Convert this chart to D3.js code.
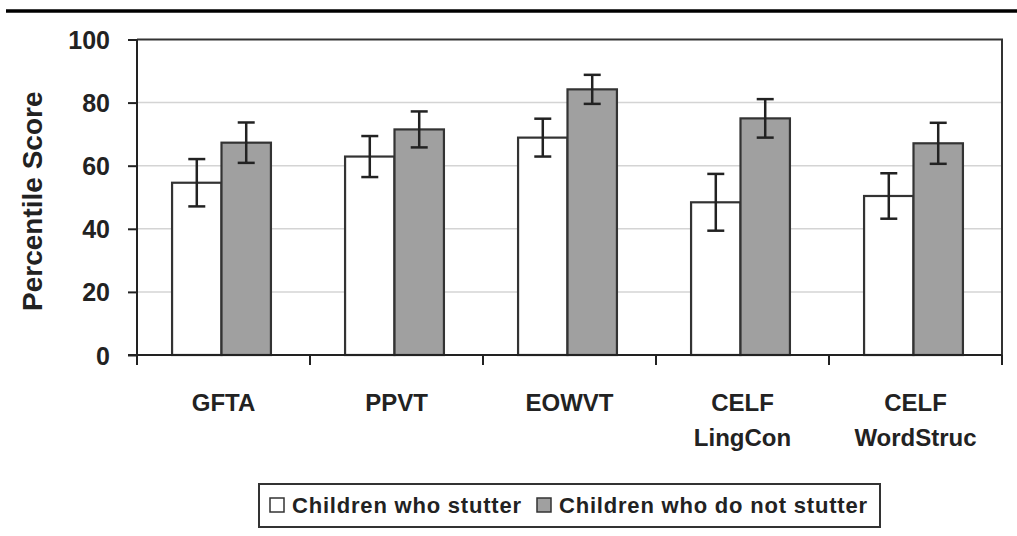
<!DOCTYPE html>
<html>
<head>
<meta charset="utf-8">
<script src="https://cdn.jsdelivr.net/npm/d3@7"></script>
<style>
  body { margin: 0; background: #fff; }
  text { font-family: "Liberation Sans", Arial, sans-serif; font-weight: bold; fill: #222; }
</style>
</head>
<body>
<div id="chart"></div>
<script>
// data
var categories = ["GFTA", "PPVT", "EOWVT", "CELF\nLingCon", "CELF\nWordStruc"]
var series = ["Children who stutter", "Children who do not stutter"]
var stutter = [54.6, 62.9, 68.9, 48.4, 50.4]
var stutterErr = [7.5, 6.5, 6.0, 9.0, 7.2]
var noStutter = [67.3, 71.5, 84.2, 75.0, 67.1]
var noStutterErr = [6.4, 5.7, 4.6, 6.1, 6.5]
var yTicks = [0, 20, 40, 60, 80, 100]

var width = 1017, height = 536
var margin = { top: 39.5, left: 137, right: 15, bottom: 181 }

var svg = d3.select("#chart").append("svg")
    .attr("width", width)
    .attr("height", height)

// thick rule across the top of the page
svg.append("line")
    .attr("x1", 6).attr("x2", width)
    .attr("y1", 11).attr("y2", 11)
    .attr("stroke", "#000").attr("stroke-width", 3.5)

var x0 = d3.scaleBand()
    .domain(categories)
    .range([margin.left, width - margin.right])
    .padding(0)

var x1 = d3.scaleBand()
    .domain(series)
    .range([0, x0.bandwidth()])
    .paddingInner(0)
    .paddingOuter(0.75)

var y = d3.scaleLinear()
    .domain([0, 100])
    .range([height - margin.bottom, margin.top])

var color = d3.scaleOrdinal().domain(series).range(["#ffffff", "#a0a0a0"])

// gridlines
svg.append("g")
    .selectAll("line")
    .data(yTicks.filter(function (d) { return d > 0 && d < 100 }))
    .enter().append("line")
    .attr("x1", margin.left).attr("x2", width - margin.right)
    .attr("y1", function (d) { return y(d) }).attr("y2", function (d) { return y(d) })
    .attr("stroke", "#d4d4d4").attr("stroke-width", 1.5)

// plot frame (top + right)
svg.append("path")
    .attr("d", "M" + margin.left + "," + y(100) + "H" + (width - margin.right) + "V" + (y(0) + 10))
    .attr("fill", "none").attr("stroke", "#333").attr("stroke-width", 2)

var rows = categories.map(function (c, i) {
    return [
        { cat: c, key: series[0], value: stutter[i], err: stutterErr[i] },
        { cat: c, key: series[1], value: noStutter[i], err: noStutterErr[i] }
    ]
})

var groups = svg.append("g")
    .selectAll("g")
    .data(rows)
    .enter().append("g")
    .attr("transform", function (d) { return "translate(" + (x0(d[0].cat) - 2) + ",0)" })

groups.selectAll("rect")
    .data(function (d) { return d })
    .enter().append("rect")
    .attr("x", function (d) { return x1(d.key) })
    .attr("y", function (d) { return y(d.value) })
    .attr("width", x1.bandwidth())
    .attr("height", function (d) { return y(0) - y(d.value) })
    .attr("fill", function (d) { return color(d.key) })
    .attr("stroke", "#333")
    .attr("stroke-width", 2.2)

// error bars
var eb = groups.selectAll("g.err")
    .data(function (d) { return d })
    .enter().append("g")
    .attr("class", "err")
    .attr("stroke", "#222")
    .attr("stroke-width", 2.5)
var cap = 8.5
eb.append("line")
    .attr("x1", function (d) { return x1(d.key) + x1.bandwidth() / 2 })
    .attr("x2", function (d) { return x1(d.key) + x1.bandwidth() / 2 })
    .attr("y1", function (d) { return y(d.value + d.err) })
    .attr("y2", function (d) { return y(d.value - d.err) })
eb.selectAll("line.cap")
    .data(function (d) { return [d.value + d.err, d.value - d.err].map(function (v) { return { key: d.key, v: v } }) })
    .enter().append("line")
    .attr("class", "cap")
    .attr("x1", function (d) { return x1(d.key) + x1.bandwidth() / 2 - cap })
    .attr("x2", function (d) { return x1(d.key) + x1.bandwidth() / 2 + cap })
    .attr("y1", function (d) { return y(d.v) })
    .attr("y2", function (d) { return y(d.v) })

// y axis
var yAxis = svg.append("g")
    .attr("transform", "translate(" + margin.left + ",0)")
    .call(d3.axisLeft(y).tickValues(yTicks).tickSize(9).tickPadding(18))
yAxis.select(".domain").attr("stroke", "#222").attr("stroke-width", 2)
    .attr("d", "M0," + y(100) + "V" + (y(0) + 10))
yAxis.selectAll(".tick line").attr("stroke", "#222").attr("stroke-width", 2)
yAxis.selectAll(".tick text")
    .style("font-size", "25px").style("font-family", "Liberation Sans, Arial, sans-serif")
    .style("font-weight", "bold").attr("fill", "#222").attr("dy", "0.36em")

// x axis
var xAxis = svg.append("g")
    .attr("transform", "translate(0," + y(0) + ")")
    .call(d3.axisBottom(x0).tickSize(0).tickFormat(""))
xAxis.select(".domain").attr("stroke", "#222").attr("stroke-width", 2.2)
    .attr("d", "M" + (margin.left - 9) + ",0H" + (width - margin.right))
xAxis.selectAll(".sep")
    .data(categories)
    .enter().append("line")
    .attr("class", "sep")
    .attr("x1", function (d) { return x0(d) + x0.bandwidth() })
    .attr("x2", function (d) { return x0(d) + x0.bandwidth() })
    .attr("y1", 0).attr("y2", 10)
    .attr("stroke", "#222").attr("stroke-width", 2)

var labels = svg.append("g")
    .selectAll("text")
    .data(categories)
    .enter().append("text")
    .attr("text-anchor", "middle")
    .attr("x", function (d) { return x0(d) + x0.bandwidth() / 2 })
    .attr("y", 411)
    .style("font-size", "24px")
labels.selectAll("tspan")
    .data(function (d) { return d.split("\n") })
    .enter().append("tspan")
    .attr("x", function () { return this.parentNode.getAttribute("x") })
    .attr("dy", function (d, i) { return i === 0 ? 0 : 35 })
    .text(function (d) { return d })

// y title
svg.append("text")
    .attr("transform", "translate(42," + ((y(0) + y(100)) / 2 + 4) + ") rotate(-90)")
    .attr("text-anchor", "middle")
    .style("font-size", "28px")
    .text("Percentile Score")

// legend
var legend = svg.append("g")
legend.append("rect")
    .attr("x", 259).attr("y", 484)
    .attr("width", 621).attr("height", 43)
    .attr("fill", "#fff").attr("stroke", "#333").attr("stroke-width", 2)
var legX = [270, 537]
series.forEach(function (s, i) {
    legend.append("rect")
        .attr("x", legX[i]).attr("y", 498)
        .attr("width", 14).attr("height", 14)
        .attr("fill", color(s)).attr("stroke", "#333").attr("stroke-width", 1.5)
    legend.append("text")
        .attr("x", legX[i] + 22).attr("y", 513)
        .style("font-size", "22px")
        .style("letter-spacing", "0.8px")
        .text(s)
})
</script>
</body>
</html>
